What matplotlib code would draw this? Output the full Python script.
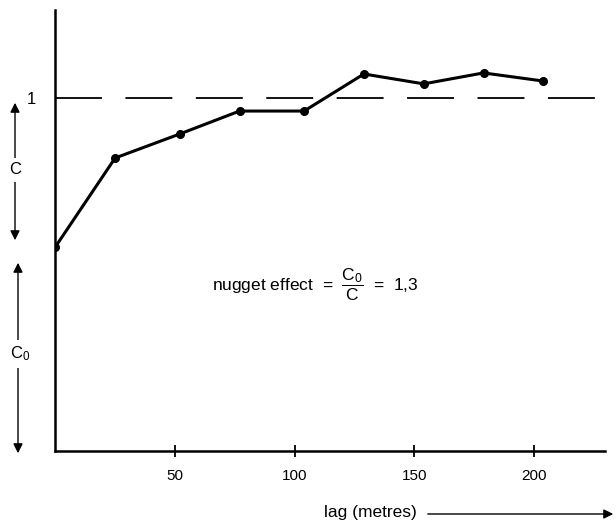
import matplotlib.pyplot as plt
from matplotlib.patches import FancyArrowPatch

plt.rcParams["font.family"] = ["Liberation Sans", "DejaVu Sans"]
plt.rcParams["mathtext.fontset"] = "custom"
plt.rcParams["mathtext.rm"] = "Liberation Sans"
plt.rcParams["mathtext.it"] = "Liberation Sans"

# semivariogram
lag = [0, 25, 52, 77, 104, 129, 154, 179, 204]
gamma = [0.578, 0.830, 0.898, 0.963, 0.963, 1.068, 1.040, 1.071, 1.048]
x_ticks = [50, 100, 150, 200]
sill = 1.0
nugget_ratio = "1,3"

fig = plt.figure(figsize=(6.16, 5.23), dpi=100)
ax = fig.add_axes([0.0898, 0.1377, 0.892, 0.843])
ax.set_xlim(0, 229.7)
ax.set_ylim(0, 1.249)

for s in ["top", "right"]:
    ax.spines[s].set_visible(False)
for s in ["left", "bottom"]:
    ax.spines[s].set_linewidth(1.8)

ax.axhline(sill, color="black", lw=1.3, dashes=(26, 13))
ax.plot(lag, gamma, color="black", lw=2.2, marker="o", markersize=5.5)

ax.set_xticks(x_ticks)
ax.set_xticklabels([str(t) for t in x_ticks], fontsize=11)
ax.tick_params(axis="x", direction="inout", length=8, width=1.3, pad=9)
ax.set_yticks([sill])
ax.set_yticklabels(["1"], fontsize=12)
ax.tick_params(axis="y", length=0, pad=14)

ax.text(0.474, 0.376, r"nugget effect  =  $\dfrac{C_0}{C}$  =  " + nugget_ratio,
        transform=ax.transAxes, ha="center", va="center", fontsize=12.5)

# C and C0 arrows on the left
arrow = dict(arrowstyle="<|-|>", color="black", lw=1.0, mutation_scale=14)
a1 = FancyArrowPatch((15 / 616, 1 - 100 / 523), (15 / 616, 1 - 243 / 523),
                     transform=fig.transFigure, zorder=1, **arrow)
a2 = FancyArrowPatch((18 / 616, 1 - 260 / 523), (18 / 616, 1 - 456 / 523),
                     transform=fig.transFigure, zorder=1, **arrow)
fig.add_artist(a1)
fig.add_artist(a2)
fig.text(15 / 616, 1 - 170 / 523, "C", ha="center", va="center", fontsize=12,
         bbox=dict(facecolor="white", edgecolor="none", pad=3), zorder=5)
fig.text(20 / 616, 1 - 354 / 523, r"C$_0$", ha="center", va="center", fontsize=12,
         bbox=dict(facecolor="white", edgecolor="none", pad=3), zorder=5)

# x axis title with arrow
fig.text(370 / 616, 1 - 513 / 523, "lag (metres)", ha="center", va="center", fontsize=12.5)
fig.add_artist(FancyArrowPatch(
    (425 / 616, 1 - 514 / 523), (616 / 616, 1 - 514 / 523),
    transform=fig.transFigure, arrowstyle="-|>", color="black", lw=1.0,
    mutation_scale=14))

fig.savefig("out.png", dpi=100)
